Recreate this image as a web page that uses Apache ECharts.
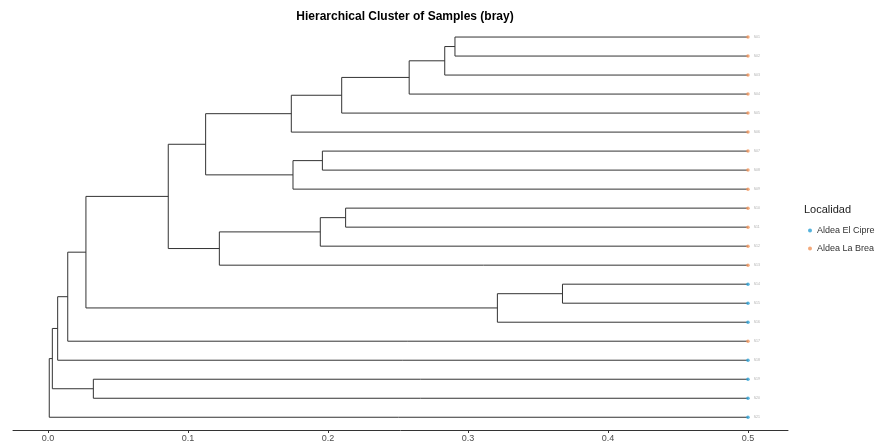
<!DOCTYPE html>
<html><head><meta charset="utf-8">
<script src="https://cdn.jsdelivr.net/npm/echarts@6/dist/echarts.min.js"></script>
<style>html,body{margin:0;padding:0;background:#fff}#c{width:878px;height:444px}</style>
</head><body><div id="c"></div>
<script>
// Leaves, top to bottom
var leafNames = ["S01","S02","S03","S04","S05","S06","S07","S08","S09","S10","S11","S12","S13","S14","S15","S16","S17","S18","S19","S20","S21"];
var leafGroup = ["Aldea La Brea","Aldea La Brea","Aldea La Brea","Aldea La Brea","Aldea La Brea","Aldea La Brea","Aldea La Brea","Aldea La Brea","Aldea La Brea","Aldea La Brea","Aldea La Brea","Aldea La Brea","Aldea La Brea","Aldea El Cipre","Aldea El Cipre","Aldea El Cipre","Aldea La Brea","Aldea El Cipre","Aldea El Cipre","Aldea El Cipre","Aldea El Cipre"];
var leafDepth = 0.5;
// merges: negative = leaf number (1-based), positive = earlier merge number
var mergeLeft  = [-1, 1, 2, 3, 4, -7, 6, 5, -10, 9, 10, 8, -14, 13, 12, 15, 16, -19, 17, 19];
var mergeRight = [-2,-3,-4,-5,-6, -8,-9, 7, -11,-12,-13,11, -15,-16, 14,-17,-18, -20, 18,-21];
var mergeDepth = [0.2907,0.2834,0.258,0.2098,0.1738,0.196,0.175,0.1126,0.2126,0.1945,0.1224,0.0859,0.3675,0.321,0.0271,0.0141,0.0069,0.0324,0.0031,0.0009];
var groups = ["Aldea El Cipre","Aldea La Brea"];
var groupColors = ["#2b9fd3","#f0935a"];
var xTicks = [0,0.1,0.2,0.3,0.4,0.5];

var nodeX = [], nodeY = [];
function pos(ref){
  if(ref<0) return [leafDepth, -ref];
  return [nodeX[ref-1], nodeY[ref-1]];
}
var segs = [];
for(var i=0;i<mergeLeft.length;i++){
  var a = pos(mergeLeft[i]), b = pos(mergeRight[i]);
  var h = mergeDepth[i];
  nodeX.push(h); nodeY.push((a[1]+b[1])/2);
  segs.push({coords:[[a[0],a[1]],[h,a[1]],[h,b[1]],[b[0],b[1]]]});
}

var series = [{
  type:'lines', coordinateSystem:'cartesian2d', polyline:true, silent:true,
  lineStyle:{color:'#333333', width:1, opacity:1}, data:segs, z:1
}];
groups.forEach(function(g,gi){
  var pts=[];
  leafGroup.forEach(function(lg,li){ if(lg===g) pts.push({value:[leafDepth,li+1],name:leafNames[li]}); });
  series.push({
    type:'scatter', name:g, data:pts, symbolSize:3.5, z:3,
    itemStyle:{color:groupColors[gi]},
    label:{show:true, position:'right', distance:4, formatter:function(p){return p.name;}, fontSize:3.5, color:'#9a9a9a', fontFamily:'Liberation Sans'}
  });
});

var chart = echarts.init(document.getElementById('c'), null, {renderer:'canvas'});
chart.setOption({
  animation:false,
  backgroundColor:'#ffffff',
  title:[{text:'Hierarchical Cluster of Samples (bray)', left:400, textAlign:'center', top:6,
    textStyle:{fontSize:12, fontWeight:'bold', color:'#000', fontFamily:'Liberation Sans'}},
    {text:'Localidad', left:799, top:199, textStyle:{fontSize:11, fontWeight:'normal', color:'#222', fontFamily:'Liberation Sans'}}],
  legend:{orient:'vertical', left:803, top:221, itemWidth:4, itemHeight:4, itemGap:9, icon:'circle',
    data:groups, textStyle:{fontSize:9, color:'#333', fontFamily:'Liberation Sans'}},
  grid:{left:13, right:90, top:24.3, bottom:14},
  xAxis:{type:'value', min:-0.025, max:0.5286,
    axisLine:{show:true, lineStyle:{color:'#333', width:1}},
    axisTick:{show:true, customValues:xTicks, length:3, lineStyle:{color:'#333'}},
    axisLabel:{customValues:xTicks, formatter:function(v){return v.toFixed(1);}, fontSize:9, color:'#4d4d4d', margin:4, fontFamily:'Liberation Sans'},
    splitLine:{show:false}},
  yAxis:{type:'value', inverse:true, min:0.33, max:21.67, show:false},
  series:series
});
</script></body></html>
